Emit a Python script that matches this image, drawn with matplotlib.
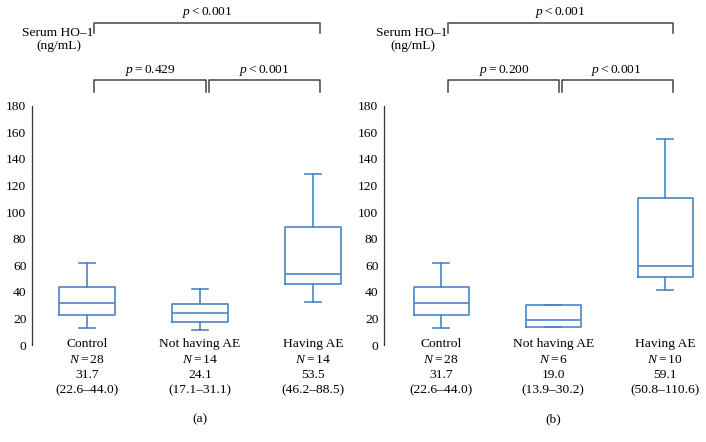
import matplotlib.pyplot as plt

plt.rcParams['font.family'] = 'Liberation Serif'
plt.rcParams['mathtext.fontset'] = 'custom'
plt.rcParams['mathtext.rm'] = 'Liberation Serif'
plt.rcParams['mathtext.it'] = 'Liberation Serif:italic'

# ----------------------------
# Data
# ----------------------------
groups = ["Control", "Not having AE", "Having AE"]

n_a = [28, 14, 14]
whislo_a = [13.0, 11.0, 32.0]
q1_a = [22.6, 17.1, 46.2]
med_a = [31.7, 24.1, 53.5]
q3_a = [44.0, 31.1, 88.5]
whishi_a = [62.0, 42.0, 129.0]
p_a = ["$p=0.429$", "$p<0.001$", "$p<0.001$"]

n_b = [28, 6, 10]
whislo_b = [13.0, 13.5, 41.0]
q1_b = [22.6, 13.9, 50.8]
med_b = [31.7, 19.0, 59.1]
q3_b = [44.0, 30.2, 110.6]
whishi_b = [62.0, 30.2, 155.0]
p_b = ["$p=0.200$", "$p<0.001$", "$p<0.001$"]

yticks = [0, 20, 40, 60, 80, 100, 120, 140, 160, 180]
BLUE = "#4A86C4"
FS = 9.7
W, H = 706, 442


def draw_panel(ax, n, lo, q1, med, q3, hi, pvals, tag):
    stats = []
    for i in range(3):
        stats.append(dict(whislo=lo[i], q1=q1[i], med=med[i], q3=q3[i],
                          whishi=hi[i], fliers=[]))
    lp = dict(color=BLUE, linewidth=1.2)
    ax.bxp(stats, positions=[1, 2, 3], widths=0.49, capwidths=0.14,
           showfliers=False, boxprops=lp, whiskerprops=lp, capprops=lp,
           medianprops=lp)

    ax.set_ylim(0, 180)
    ax.set_yticks(yticks)
    ax.set_xticks([])
    for s in ["top", "right", "bottom"]:
        ax.spines[s].set_visible(False)
    ax.spines["left"].set_color("#333333")
    ax.spines["left"].set_linewidth(0.9)
    ax.tick_params(axis='y', length=0, pad=4, labelsize=FS)

    # labels under the boxes
    for i in range(3):
        x = i + 1
        ax.text(x, 1, groups[i], ha='center', va='center', fontsize=FS, clip_on=False)
        ax.text(x, -11, f"$N={n[i]}$", ha='center', va='center', fontsize=FS, clip_on=False)
        ax.text(x, -22.5, f"{med[i]:.1f}", ha='center', va='center', fontsize=FS, clip_on=False)
        ax.text(x, -34, f"({q1[i]:.1f}\u2013{q3[i]:.1f})", ha='center', va='center',
                fontsize=FS, clip_on=False)
    ax.text(2, -56, tag, ha='center', va='center', fontsize=FS, clip_on=False)

    # significance brackets
    off = 0.065
    kw = dict(color="#444444", linewidth=1.1, clip_on=False)
    ax.plot([1 + off, 1 + off, 3 + off, 3 + off], [235, 242, 242, 235], **kw)
    ax.text(2 + off, 250, pvals[2], ha='center', va='center', fontsize=FS, clip_on=False)
    ax.plot([1 + off, 1 + off, 2 + off - 0.015, 2 + off - 0.015], [190, 199, 199, 190], **kw)
    ax.plot([2 + off + 0.015, 2 + off + 0.015, 3 + off, 3 + off], [190, 199, 199, 190], **kw)
    ax.text(1.5 + off, 206.5, pvals[0], ha='center', va='center', fontsize=FS, clip_on=False)
    ax.text(2.5 + off, 206.5, pvals[1], ha='center', va='center', fontsize=FS, clip_on=False)

    ax.text(1 + off - 0.01, 235, "Serum HO\u20131", ha='right', va='center', fontsize=FS, clip_on=False)
    ax.text(0.75, 225, "(ng/mL)", ha='center', va='center', fontsize=FS, clip_on=False)


fig = plt.figure(figsize=(W / 100, H / 100), dpi=100)

bottom = 1 - 345 / H
height = 239.3 / H

ax1 = fig.add_axes([32 / W, bottom, (347 - 32) / W, height])
ax1.set_xlim(0.513, 3.3)
ax1.patch.set_alpha(0)
draw_panel(ax1, n_a, whislo_a, q1_a, med_a, q3_a, whishi_a, p_a, "(a)")

ax2 = fig.add_axes([384 / W, bottom, (700 - 384) / W, height])
ax2.set_xlim(0.49, 3.31)
ax2.patch.set_alpha(0)
draw_panel(ax2, n_b, whislo_b, q1_b, med_b, q3_b, whishi_b, p_b, "(b)")

fig.savefig("out.png", dpi=100)
